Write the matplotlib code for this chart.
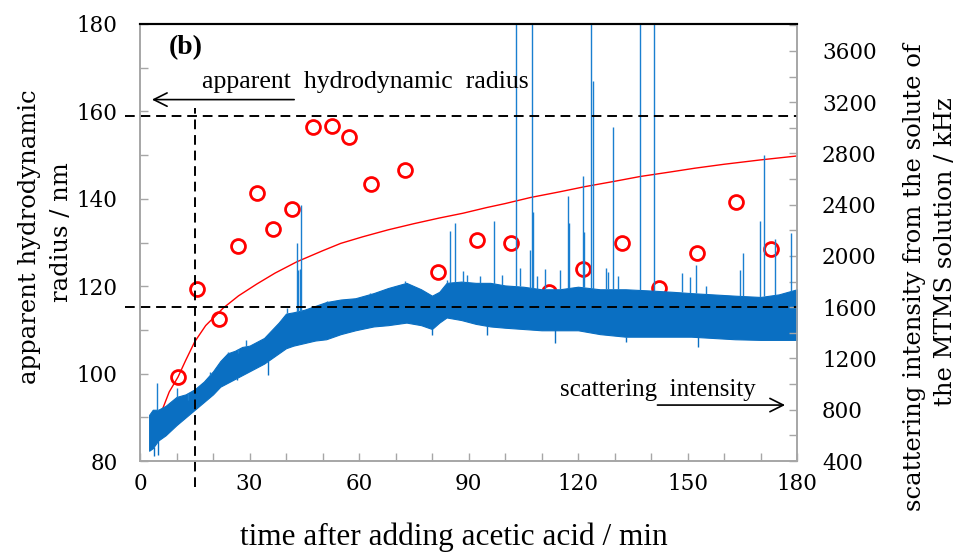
import numpy as np
import matplotlib
matplotlib.use('Agg')
import matplotlib.pyplot as plt
from matplotlib.ticker import MultipleLocator

# ---- data ---- #

# apparent hydrodynamic radius (open red circles), min / nm
radius_time = [10.4, 15.6, 21.6, 26.8, 32.1, 36.4, 41.6, 47.4, 52.6, 57.3, 63.3,
               72.6, 81.6, 92.3, 101.6, 112.0, 121.4, 132.0, 142.2, 152.5, 163.3, 173.0]
radius_nm = [99.2, 119.4, 112.5, 129.2, 141.3, 133.1, 137.7, 156.4, 156.7, 154.1, 143.4,
             146.6, 123.2, 130.6, 129.9, 118.7, 123.9, 129.8, 119.7, 127.5, 139.3, 128.4]

# fitted curve through the radius (thin red line)
fit_time = [4.5, 6, 8, 10.4, 12.5, 15, 18, 22.8, 27, 32, 37, 43, 50, 55, 61, 68, 75,
            82, 88.5, 95, 100, 107, 115, 122, 130, 137, 145, 152, 160, 170, 180]
fit_nm = [87.5, 91.5, 95.8, 99.2, 103.0, 107.3, 111.0, 115.0, 117.8, 120.5, 123.0,
          125.6, 128.1, 129.8, 131.3, 132.9, 134.3, 135.6, 136.7, 138.0, 138.9, 140.3,
          141.6, 142.8, 144.0, 145.1, 146.1, 147.0, 147.9, 148.9, 149.8]

# scattering intensity band (blue), min / kHz, lower and upper envelope
band_time = [2.5, 3.5, 5, 7, 10, 12.5, 15, 17.5, 20, 22, 24, 26, 28, 30, 32, 34, 36,
             38, 40, 42, 45, 48, 51, 55, 59, 64, 68, 73, 77, 80, 82, 84, 88, 92, 96,
             100, 105, 110, 115, 120, 126, 133, 140, 146, 151, 157, 163, 170, 175, 180]
band_upper = [760, 800, 800, 830, 900, 920, 960, 1020, 1100, 1180, 1240, 1260, 1290,
              1300, 1330, 1360, 1420, 1480, 1550, 1560, 1580, 1610, 1640, 1660, 1670,
              1710, 1750, 1790, 1740, 1690, 1720, 1790, 1800, 1790, 1790, 1770, 1760,
              1740, 1740, 1760, 1740, 1740, 1730, 1720, 1710, 1700, 1690, 1680, 1700, 1740]
band_lower = [480, 500, 560, 600, 680, 740, 800, 860, 920, 980, 1010, 1040, 1070,
              1100, 1130, 1160, 1200, 1240, 1280, 1300, 1320, 1340, 1350, 1390, 1420,
              1450, 1460, 1480, 1460, 1430, 1480, 1520, 1500, 1470, 1450, 1440, 1430,
              1420, 1420, 1420, 1390, 1370, 1370, 1370, 1370, 1360, 1350, 1345, 1345, 1345]

# upward spikes of the scattering intensity, min / kHz (4000 = off the top)
spike_time = [4.6, 10.0, 13.2, 19.2, 24.2, 26.9, 29.0, 32.0, 37.9, 40.2, 42.9, 43.3,
              43.7, 44.0, 51.1, 58.4, 63.0, 72.6, 84.2, 84.9, 86.3, 88.5, 89.5, 93.1,
              97.1, 99.1, 103.0, 104.1, 106.8, 107.4, 107.7, 108.7, 111.0, 115.1,
              117.3, 117.6, 121.3, 121.7, 123.6, 124.2, 127.6, 128.3, 129.5, 131.0,
              137.0, 140.8, 148.4, 150.7, 152.2, 155.0, 164.4, 165.2, 169.9, 171.0,
              174.0, 178.3]
spike_khz = [1009, 970, 877, 1098, 1254, 1244, 1345, 1332, 1478, 1595, 2103, 1890,
             1900, 2400, 1645, 1673, 1712, 1801, 1814, 2191, 2259, 1879, 1853, 1840,
             2270, 1853, 4000, 1908, 2048, 4000, 2345, 1840, 1900, 1892,
             2465, 2260, 2627, 2189, 4000, 3369, 1908, 1877, 3009, 1840,
             4000, 4000, 1869, 1838, 1931, 1762, 1892, 2025, 2270, 2790,
             2134, 2181]

# downward dips of the scattering intensity, min / kHz
dip_time = [3.7, 5.0, 26.5, 35.2, 79.9, 95.0, 113.7, 133.2, 153.0]
dip_khz = [440, 450, 1033, 1072, 1384, 1384, 1322, 1332, 1293]

# dashed guide lines (radius axis units)
guide_time = 15
guide_radius_hi = 159.0
guide_radius_lo = 115.2

serif_num = 'DejaVu Serif'
serif_txt = 'Liberation Serif'

fig = plt.figure(figsize=(9.6, 5.53), dpi=100)
ax = fig.add_axes([140/960, 1 - 461/553, 657/960, 437/553])
ax2 = ax.twinx()

ax.set_xlim(0, 180)
ax.set_ylim(80, 180)
ax2.set_ylim(400, 3810)

# red: radius + fit (under the blue trace)
ax.plot(fit_time, fit_nm, color='red', lw=1.0)
ax.plot(radius_time, radius_nm, 'o', ms=10, mfc='none', mec='red', mew=2.0)

# blue: scattering intensity
blue = '#0a6fc2'
ax2.vlines(spike_time, np.interp(spike_time, band_time, band_upper), spike_khz,
           color='#1a7fd0', lw=1.0)
ax2.vlines(dip_time, dip_khz, np.interp(dip_time, band_time, band_lower),
           color=blue, lw=1.0)
ax2.fill_between(band_time, band_lower, band_upper, color=blue, lw=0.8, edgecolor=blue)

# dashed guides, drawn over the blue trace
dash = (0, (5, 3))
ax2.plot([-4, 180], [guide_radius_hi, guide_radius_hi], color='k', lw=1.4, ls=dash,
         transform=ax.transData, clip_on=False)
ax2.plot([-4, 180], [guide_radius_lo, guide_radius_lo], color='k', lw=1.4, ls=dash,
         transform=ax.transData, clip_on=False)
ax2.plot([guide_time, guide_time], [74, 160.8], color='k', lw=1.4, ls=dash,
         transform=ax.transData, clip_on=False)

# annotations
ax2.text(7.8, 174.6, '(b)', transform=ax.transData, fontsize=20, fontweight='bold',
         family=serif_txt, ha='left', va='center')
ax2.text(17, 166.8, 'apparent  hydrodynamic  radius', transform=ax.transData,
         fontsize=18.5, family=serif_txt, ha='left', va='center')
ax2.annotate('', xy=(2.5, 162.7), xytext=(43, 162.7), xycoords=ax.transData,
             textcoords=ax.transData,
             arrowprops=dict(arrowstyle='->', color='k', lw=1.2, mutation_scale=24))
ax2.text(115, 96.3, 'scattering  intensity', transform=ax.transData,
         fontsize=18, family=serif_txt, ha='left', va='center')
ax2.annotate('', xy=(177.5, 92.8), xytext=(141, 92.8), xycoords=ax.transData,
             textcoords=ax.transData,
             arrowprops=dict(arrowstyle='->', color='k', lw=1.2, mutation_scale=24))

# ticks and spines
grey = '#a6a6a6'
ax.xaxis.set_major_locator(MultipleLocator(30))
ax.xaxis.set_minor_locator(MultipleLocator(10))
ax.yaxis.set_major_locator(MultipleLocator(20))
ax.yaxis.set_minor_locator(MultipleLocator(10))
ax2.yaxis.set_major_locator(MultipleLocator(400))
ax2.yaxis.set_minor_locator(MultipleLocator(200))

for a in (ax, ax2):
    a.tick_params(which='both', direction='in', color=grey, width=1.0, labelsize=15.5,
                  length=6)
    for s in ('left', 'right', 'bottom'):
        a.spines[s].set_color(grey)
        a.spines[s].set_linewidth(1.2)
    a.spines['top'].set_color('k')
    a.spines['top'].set_linewidth(1.5)
    for lab in a.get_xticklabels() + a.get_yticklabels():
        lab.set_family(serif_num)
ax.tick_params(axis='y', pad=16)
ax.tick_params(axis='x', pad=9)
ax2.tick_params(axis='y', pad=18)
ax.tick_params(which='both', top=False, right=False)
ax2.tick_params(which='both', left=False)

fig.text(454/960, 1 - 537/553, 'time after adding acetic acid / min', family=serif_txt,
         fontsize=22.5, ha='center', va='center')
fig.text(30/960, 1 - 237/553, 'apparent hydrodynamic', rotation=90,
         ha='center', va='center', family=serif_num, fontsize=17.5)
fig.text(62/960, 1 - 232/553, 'radius / nm', rotation=90,
         ha='center', va='center', family=serif_num, fontsize=17.5)
fig.text(915/960, 1 - 277/553, 'scattering intensity from the solute of', rotation=90,
         ha='center', va='center', family=serif_num, fontsize=17.5)
fig.text(945/960, 1 - 252/553, 'the MTMS solution / kHz', rotation=90,
         ha='center', va='center', family=serif_num, fontsize=17.5)

fig.savefig('out.png', dpi=100)
